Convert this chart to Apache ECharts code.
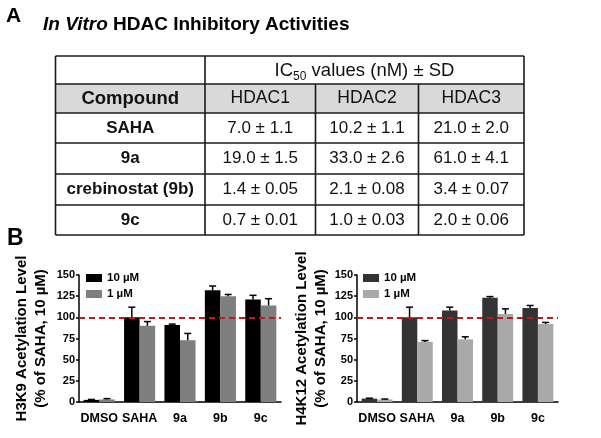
<!DOCTYPE html>
<html><head><meta charset="utf-8">
<script src="https://cdn.jsdelivr.net/npm/echarts@6/dist/echarts.min.js"></script>
<style>html,body{margin:0;padding:0;background:#fff}#c{width:601px;height:438px}</style>
</head><body><div id="c"></div>
<script>
// ---- Table data (IC50 nM, mean ± SD) ----
const compounds = ['SAHA', '9a', 'crebinostat (9b)', '9c'];
const isoforms = ['HDAC1', 'HDAC2', 'HDAC3'];
const hdac1Mean = [7.0, 19.0, 1.4, 0.7];
const hdac1SD   = [1.1, 1.5, 0.05, 0.01];
const hdac2Mean = [10.2, 33.0, 2.1, 1.0];
const hdac2SD   = [1.1, 2.6, 0.08, 0.03];
const hdac3Mean = [21.0, 61.0, 3.4, 2.0];
const hdac3SD   = [2.0, 4.1, 0.07, 0.06];

// ---- Bar chart data (% of SAHA 10 µM) ----
const categories = ['DMSO', 'SAHA', '9a', '9b', '9c'];
const doseLabels = ['10 µM', '1 µM'];
const h3k9Dose10 = [2.5, 100, 91, 132, 121];
const h3k9Dose10Err = [0.5, 12, 1, 5, 5];
const h3k9Dose1 = [3, 90, 73, 125, 114];
const h3k9Dose1Err = [1, 5, 8, 2, 8];
const h4k12Dose10 = [4, 100, 108, 123, 111];
const h4k12Dose10Err = [0.5, 12, 4, 1.5, 3];
const h4k12Dose1 = [3, 71, 74, 104, 92];
const h4k12Dose1Err = [0.5, 1.5, 3, 6, 2];
const yMin = 0, yMax = 150, yStep = 25;
const refLevel = 100;

const FONT = '"Liberation Sans", Arial, sans-serif';
const GAP = 0.23;

function fmt(m, s) {
  return m.toFixed(1) + ' \u00b1 ' + (s < 0.1 ? s.toFixed(2) : s.toFixed(1));
}

// ---- Table graphics ----
const colX = [55.5, 205, 315.5, 418.5, 524];
const rowY = [56, 84, 113, 143, 174, 205, 235];
const g = [];
const LW = 1.6, LC = '#1a1a1a';
g.push({type:'rect', shape:{x:colX[0], y:rowY[1], width:colX[4]-colX[0], height:rowY[2]-rowY[1]}, style:{fill:'#d9d9d9'}, z:100});
rowY.forEach(y => g.push({type:'line', shape:{x1:colX[0], y1:y, x2:colX[4], y2:y}, style:{stroke:LC, lineWidth:LW}, z:101}));
[0,1,4].forEach(c => g.push({type:'line', shape:{x1:colX[c], y1:rowY[0], x2:colX[c], y2:rowY[6]}, style:{stroke:LC, lineWidth:LW}, z:101}));
[2,3].forEach(c => g.push({type:'line', shape:{x1:colX[c], y1:rowY[1], x2:colX[c], y2:rowY[6]}, style:{stroke:LC, lineWidth:LW}, z:101}));
function txt(x, y, text, weight, size) {
  return {type:'text', x:x, y:y, z:102, style:{text:text, fontFamily:FONT, fontWeight:weight, fontSize:size, fill:'#111', textAlign:'center', textVerticalAlign:'middle'}};
}
const cx = i => (colX[i] + colX[i+1]) / 2;
const cy = i => (rowY[i] + rowY[i+1]) / 2;
g.push({type:'text', x:(colX[1]+colX[4])/2, y:cy(0)+1, z:102, style:{
  text:'{n|IC}{s|50}{n| values (nM) \u00b1 SD}', textAlign:'center', textVerticalAlign:'middle',
  rich:{n:{fontFamily:FONT, fontSize:18.5, lineHeight:23, fill:'#111', verticalAlign:'middle'},
        s:{fontFamily:FONT, fontSize:12, lineHeight:12, fill:'#111', verticalAlign:'bottom'}}}});
g.push(txt(cx(0), cy(1), 'Compound', 'bold', 18.5));
isoforms.forEach((h, j) => g.push(txt(cx(j+1), cy(1), h, 'normal', 17.5)));
const means = [hdac1Mean, hdac2Mean, hdac3Mean];
const sds = [hdac1SD, hdac2SD, hdac3SD];
compounds.forEach((c, i) => {
  g.push(txt(cx(0), cy(i+2), c, 'bold', 17));
  for (let j = 0; j < 3; j++) g.push(txt(cx(j+1), cy(i+2), fmt(means[j][i], sds[j][i]), 'normal', 17));
});
// Panel letters & title
g.push({type:'text', x:6, y:16, z:102, style:{text:'A', fontFamily:FONT, fontWeight:'bold', fontSize:21, fill:'#000', textVerticalAlign:'middle'}});
g.push({type:'text', x:7, y:239, z:102, style:{text:'B', fontFamily:FONT, fontWeight:'bold', fontSize:23, fill:'#000', textVerticalAlign:'middle'}});
g.push({type:'text', x:43, y:25, z:102, style:{text:'{i|In Vitro}{b| HDAC Inhibitory Activities}', textVerticalAlign:'middle',
  rich:{i:{fontFamily:FONT, fontSize:19, fontWeight:'bold', fontStyle:'italic', fill:'#000'},
        b:{fontFamily:FONT, fontSize:19, fontWeight:'bold', fill:'#000'}}}});

// ---- Charts ----
function yAxisCfg(gi, name, gap) {
  return {type:'value', gridIndex:gi, min:yMin, max:yMax, interval:yStep,
    axisLine:{show:true, lineStyle:{color:'#000', width:1.5}},
    axisTick:{show:true, length:3, lineStyle:{color:'#000', width:1.5}},
    splitLine:{show:false},
    axisLabel:{color:'#000', fontWeight:'bold', fontSize:11, fontFamily:FONT, margin:4},
    name:name, nameLocation:'middle', nameGap:gap, nameRotate:90,
    nameTextStyle:{color:'#000', fontWeight:'bold', fontSize:15, lineHeight:19, fontFamily:FONT}};
}
function xAxisCfg(gi) {
  return {type:'category', gridIndex:gi, data:categories,
    axisLine:{lineStyle:{color:'#000', width:1.5}},
    axisTick:{alignWithLabel:true, length:3, lineStyle:{color:'#000', width:1.5}},
    axisLabel:{color:'#000', fontWeight:'bold', fontSize:12.5, fontFamily:FONT, margin:10, interval:0}};
}
function barSeries(name, gi, data, color) {
  return {type:'bar', name:name, xAxisIndex:gi, yAxisIndex:gi, data:data, barGap:'0%', barCategoryGap:(GAP*100)+'%',
    itemStyle:{color:color}, silent:true};
}
function errSeries(gi, v10, e10, v1, e1) {
  const data = [];
  categories.forEach((c, i) => { data.push([i, v10[i], e10[i], 0]); data.push([i, v1[i], e1[i], 1]); });
  return {type:'custom', xAxisIndex:gi, yAxisIndex:gi, data:data, z:5, silent:true, encode:{x:0, y:1},
    renderItem:function(params, api) {
      const i = api.value(0), v = api.value(1), e = api.value(2), s = api.value(3);
      const band = api.size([1, 0])[0];
      const bw = band * (1 - GAP) / 2;
      const x = api.coord([i, 0])[0] - bw + bw * (s + 0.5);
      const y0 = api.coord([i, v])[1], y1 = api.coord([i, v + e])[1];
      const st = {stroke:'#000', lineWidth:1.5};
      return {type:'group', children:[
        {type:'line', shape:{x1:x, y1:y0, x2:x, y2:y1}, style:st},
        {type:'line', shape:{x1:x-3.5, y1:y1, x2:x+3.5, y2:y1}, style:st}]};
    },
    markLine:{silent:true, symbol:'none', label:{show:false}, z:10,
      lineStyle:{color:'#c4161c', type:[6, 4], width:2}, data:[{yAxis:refLevel}]}};
}
function legendCfg(left, names) {
  return {left:left, top:272, padding:0, orient:'vertical', itemWidth:16, itemHeight:8, itemGap:4, icon:'rect',
    data:names, selectedMode:false, formatter:n => n.replace(/^\S+ /, ''),
    textStyle:{color:'#000', fontWeight:'bold', fontSize:11.5, fontFamily:FONT}};
}

const chart = echarts.init(document.getElementById('c'), null, {renderer:'canvas'});
chart.setOption({
  animation:false,
  backgroundColor:'#fff',
  textStyle:{fontFamily:FONT},
  grid:[{left:79, top:275, width:202, height:127}, {left:357, top:275, width:201, height:127}],
  xAxis:[xAxisCfg(0), xAxisCfg(1)],
  yAxis:[yAxisCfg(0, 'H3K9 Acetylation Level\n(% of SAHA, 10 \u00b5M)', 29),
         yAxisCfg(1, 'H4K12 Acetylation Level\n(% of SAHA, 10 \u00b5M)', 18)],
  legend:[legendCfg(86, ['H3K9 ' + doseLabels[0], 'H3K9 ' + doseLabels[1]]),
          legendCfg(363, ['H4K12 ' + doseLabels[0], 'H4K12 ' + doseLabels[1]])],
  series:[
    barSeries('H3K9 ' + doseLabels[0], 0, h3k9Dose10, '#000000'),
    barSeries('H3K9 ' + doseLabels[1], 0, h3k9Dose1, '#7f7f7f'),
    errSeries(0, h3k9Dose10, h3k9Dose10Err, h3k9Dose1, h3k9Dose1Err),
    barSeries('H4K12 ' + doseLabels[0], 1, h4k12Dose10, '#333333'),
    barSeries('H4K12 ' + doseLabels[1], 1, h4k12Dose1, '#a9a9a9'),
    errSeries(1, h4k12Dose10, h4k12Dose10Err, h4k12Dose1, h4k12Dose1Err)
  ],
  graphic:{elements:g}
});
</script></body></html>
